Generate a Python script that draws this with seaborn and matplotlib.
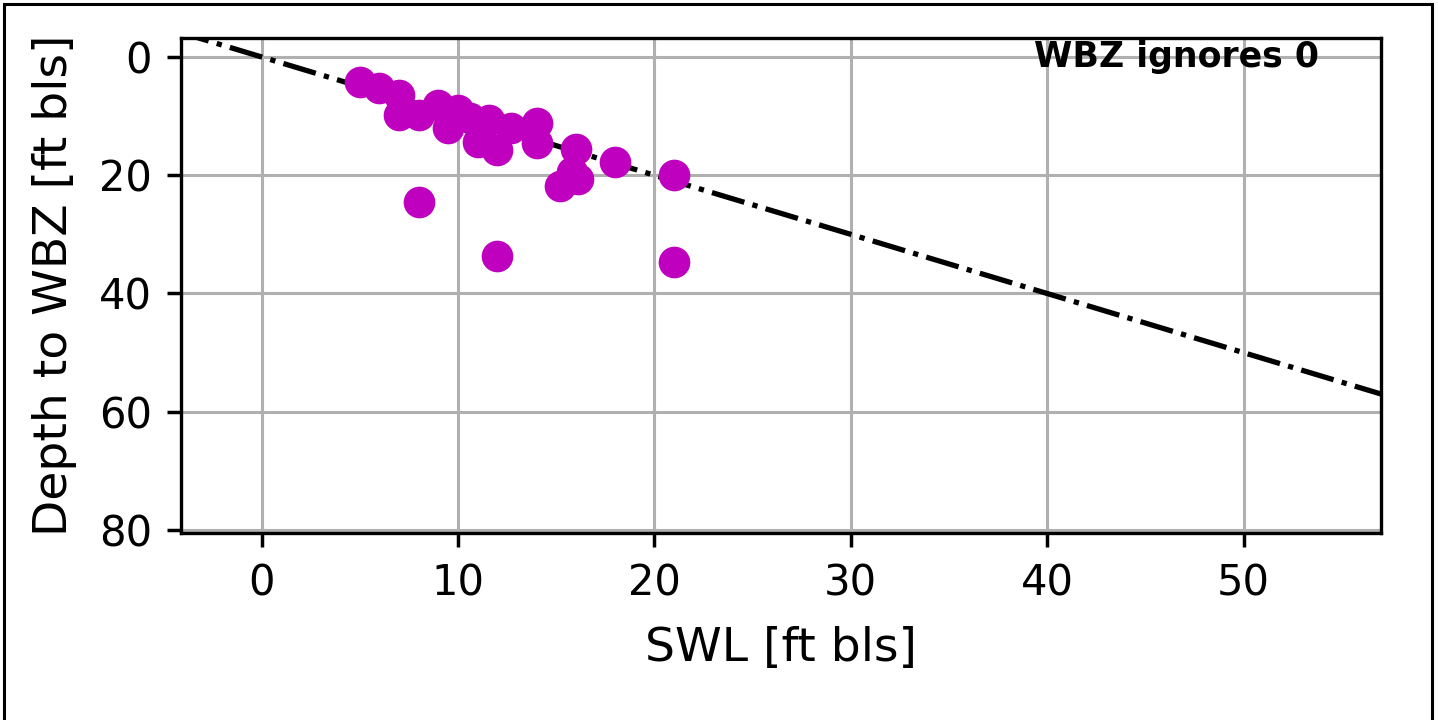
# -*- coding:utf-8 -*-

import matplotlib
matplotlib.use("Agg")
import matplotlib.pyplot as plt
import matplotlib.patches as mpatches
import pandas as pd
import seaborn as sns


# Datos
swl = [5, 6, 7, 7, 8, 9, 9.5, 10, 10.6, 11, 11.6, 12, 12.7, 14, 14,
       16, 15.2, 15.8, 16.1, 18, 21, 8, 12, 21]
wbz = [4.2, 5.2, 6.4, 9.8, 9.8, 8.1, 12, 9, 10.3, 14.4, 10.7, 15.7, 12, 11.2, 14.5,
       15.5, 21.9, 19.4, 20.6, 17.8, 20, 24.6, 33.6, 34.7]
one_to_one = [-10, 70]
x_ticks = [0, 10, 20, 30, 40, 50]
y_ticks = [0, 20, 40, 60, 80]
note = "WBZ ignores 0"


def main():
    df = pd.DataFrame({"swl": swl, "wbz": wbz})
    line_df = pd.DataFrame({"x": one_to_one, "y": one_to_one})

    fig = plt.figure(figsize=(14.38, 7.2), dpi=100)
    ax = fig.add_axes([0.1259, 0.2597, 0.8345, 0.6875])

    ax.grid(True, color="#b0b0b0", linewidth=2.2, zorder=0)
    ax.set_axisbelow(True)

    sns.lineplot(data=line_df, x="x", y="y", ax=ax, color="k",
                 linestyle="-.", linewidth=3.8, zorder=2)
    sns.scatterplot(data=df, x="swl", y="wbz", ax=ax, color="m",
                    s=520, linewidth=0, zorder=3)

    ax.set_xlim(-4.1, 57.0)
    ax.set_ylim(80.5, -3.2)
    ax.set_xticks(x_ticks)
    ax.set_yticks(y_ticks)
    ax.tick_params(labelsize=30, length=10, width=2.5, pad=11)
    for s in ax.spines.values():
        s.set_linewidth(2.4)

    ax.set_xlabel("SWL [ft bls]", fontsize=34, labelpad=16)
    ax.set_ylabel("Depth to WBZ [ft bls]", fontsize=34, labelpad=16)
    ax.text(0.948, 0.995, note, transform=ax.transAxes, ha="right", va="top",
            fontsize=25, fontweight="bold", zorder=4)

    # marco de la figura
    frame = mpatches.Rectangle((4 / 1438, -0.02), 1428 / 1438, 1.02 - 4 / 720,
                               transform=fig.transFigure, fill=False,
                               edgecolor="k", linewidth=2.2)
    fig.patches.append(frame)

    fig.savefig("out.png", dpi=100)
    plt.close(fig)


if __name__ == "__main__":
    main()
